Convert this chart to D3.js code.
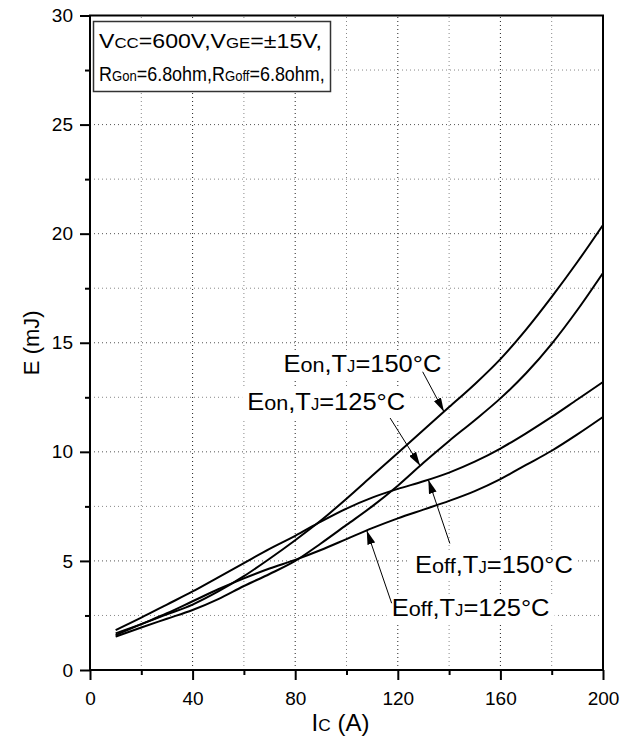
<!DOCTYPE html>
<html>
<head>
<meta charset="utf-8">
<script src="https://cdn.jsdelivr.net/npm/d3@7"></script>
<style>
  html, body { margin: 0; padding: 0; background: #fff; }
  svg { display: block; font-family: "Liberation Sans", Arial, Helvetica, sans-serif; }
</style>
</head>
<body>
<svg id="chart" width="621" height="743"></svg>
<script>
// Collector current (A)
const currentA = [10, 20, 30, 40, 50, 60, 70, 80, 90, 100, 110, 120, 130, 140, 150, 160, 170, 180, 190, 200];

// Switching energies (mJ)
const eonTj150  = [1.68, 2.10, 2.55, 3.00, 3.60, 4.30, 5.10, 5.95, 6.85, 7.85, 8.90, 9.95, 11.00, 12.05, 13.10, 14.25, 15.60, 17.10, 18.70, 20.40];
const eonTj125  = [1.53, 1.95, 2.35, 2.75, 3.25, 3.85, 4.40, 5.00, 5.80, 6.65, 7.50, 8.45, 9.50, 10.50, 11.45, 12.45, 13.60, 14.95, 16.50, 18.20];
const eoffTj150 = [1.83, 2.40, 3.00, 3.60, 4.25, 4.90, 5.55, 6.15, 6.80, 7.40, 7.90, 8.30, 8.65, 9.05, 9.55, 10.15, 10.85, 11.60, 12.40, 13.20];
const eoffTj125 = [1.60, 2.10, 2.60, 3.15, 3.70, 4.20, 4.65, 5.05, 5.50, 6.00, 6.50, 6.95, 7.35, 7.75, 8.20, 8.75, 9.40, 10.05, 10.80, 11.60];

// Axis ticks
const xMajorTicks = [0, 40, 80, 120, 160, 200];
const xMinorTicks = [20, 60, 100, 140, 180];
const yMajorTicks = [0, 5, 10, 15, 20, 25, 30];
const yMinorTicks = [2.5, 7.5, 12.5, 17.5, 22.5, 27.5];
const xGridValues = [20, 40, 60, 80, 100, 120, 140, 160, 180];
const yGridValues = [2.5, 5, 7.5, 10, 12.5, 15, 17.5, 20, 22.5, 25, 27.5];

// Text content: [string, relative size]
const conditionLines = [
  [["V", 1], ["CC", 0.73], ["=600V,", 1], ["V", 1], ["GE", 0.73], ["=\u00B115V,", 1]],
  [["R", 1], ["Gon", 0.73], ["=6.8ohm,", 1], ["R", 1], ["Goff", 0.73], ["=6.8ohm,", 1]]
];
const seriesNames = {
  eon150:  [["E", 1], ["on", 0.85], [",", 1], ["T", 1], ["J", 0.65], ["=150\u00B0C", 1]],
  eon125:  [["E", 1], ["on", 0.85], [",", 1], ["T", 1], ["J", 0.65], ["=125\u00B0C", 1]],
  eoff150: [["E", 1], ["off", 0.85], [",", 1], ["T", 1], ["J", 0.65], ["=150\u00B0C", 1]],
  eoff125: [["E", 1], ["off", 0.85], [",", 1], ["T", 1], ["J", 0.65], ["=125\u00B0C", 1]]
};
const xTitle = [["I", 1], ["C", 0.72], [" (A)", 1]];
const yTitle = "E (mJ)";

const seriesValues = { eon150: eonTj150, eon125: eonTj125, eoff150: eoffTj150, eoff125: eoffTj125 };

// Callouts: label anchor (A, mJ), arrow tail (A, mJ), arrow tip current (A) on the curve
const callouts = [
  { key: "eon150",  at: [75.4, 13.66],  tail: [129.7, 13.67], tipI: 138.0 },
  { key: "eon125",  at: [61.3, 11.90],  tail: [117.0, 11.55], tipI: 128.7 },
  { key: "eoff150", at: [126.7, 4.46],  tail: [140.3, 5.80],  tipI: 131.9 },
  { key: "eoff125", at: [117.6, 2.47],  tail: [117.6, 3.06],  tipI: 107.9 }
];

// ---------- layout ----------
const svg = d3.select("#chart");
const x = d3.scaleLinear().domain([0, 200]).range([90, 603]);
const y = d3.scaleLinear().domain([0, 30]).range([670, 15.5]);

const labelFont = 24, labelWidth = 158;
const legendFont = 21, legendWidths = [223, 226];

// rich text helper: tspans of different sizes on one baseline, optionally stretched to a width
function richText(parent, parts, size, px, py, targetW) {
  const t = parent.append("text").attr("x", 0).attr("y", 0)
    .style("font-size", size + "px").attr("fill", "#000");
  parts.forEach(p => t.append("tspan").text(p[0]).style("font-size", (size * p[1]) + "px"));
  const w = t.node().getComputedTextLength();
  const s = targetW ? targetW / w : 1;
  t.attr("transform", `translate(${px},${py}) scale(${s},1)`);
  return { node: t, width: w * s, scale: s };
}

function valueAt(arr, I) {
  return d3.scaleLinear().domain(currentA).range(arr)(I);
}

// ---------- grid ----------
const grid = svg.append("g");
grid.selectAll("line.gx").data(xGridValues).join("line")
  .attr("x1", d => x(d)).attr("x2", d => x(d))
  .attr("y1", y(0)).attr("y2", y(30))
  .attr("stroke", d => d % 40 === 0 ? "#222" : "#888")
  .attr("stroke-width", 1).attr("stroke-dasharray", "1,3");
grid.selectAll("line.gy").data(yGridValues).join("line")
  .attr("y1", d => y(d)).attr("y2", d => y(d))
  .attr("x1", x(0)).attr("x2", x(200))
  .attr("stroke", d => d % 5 === 0 ? "#555" : "#888")
  .attr("stroke-width", 1).attr("stroke-dasharray", "1,3");

const bgLayer = svg.append("g");
const curveLayer = svg.append("g");
const annoLayer = svg.append("g");

// ---------- curves ----------
const line = d3.line().x(d => x(d[0])).y(d => y(d[1])).curve(d3.curveMonotoneX);
Object.keys(seriesValues).forEach(k => {
  curveLayer.append("path")
    .datum(currentA.map((c, i) => [c, seriesValues[k][i]]))
    .attr("d", line)
    .attr("fill", "none").attr("stroke", "#000").attr("stroke-width", 2)
    .attr("stroke-linejoin", "round");
});

// arrowhead
svg.append("defs").append("marker")
  .attr("id", "arrowhead").attr("markerUnits", "userSpaceOnUse")
  .attr("markerWidth", 14).attr("markerHeight", 8)
  .attr("refX", 14).attr("refY", 4).attr("orient", "auto")
  .append("path").attr("d", "M0,0 L14,4 L0,8 Z").attr("fill", "#000");

// ---------- callouts ----------
callouts.forEach(c => {
  const r = richText(annoLayer, seriesNames[c.key], labelFont, x(c.at[0]), y(c.at[1]), labelWidth);
  const bb = { x: x(c.at[0]), y: y(c.at[1]) - labelFont * 0.78, w: r.width, h: labelFont * 1.0 };
  bgLayer.append("rect")
    .attr("x", bb.x - 5).attr("y", bb.y - 3)
    .attr("width", bb.w + 10).attr("height", bb.h + 6)
    .attr("fill", "#fff");
  const tipE = valueAt(seriesValues[c.key], c.tipI);
  annoLayer.append("line")
    .attr("x1", x(c.tail[0])).attr("y1", y(c.tail[1]))
    .attr("x2", x(c.tipI)).attr("y2", y(tipE))
    .attr("stroke", "#000").attr("stroke-width", 1)
    .attr("marker-end", "url(#arrowhead)");
});

// ---------- conditions box ----------
const legendG = svg.append("g");
const legendRect = legendG.append("rect")
  .attr("x", 93.5).attr("y", 21.5).attr("height", 70)
  .attr("fill", "#fff").attr("stroke", "#333").attr("stroke-width", 1.5);
const l1 = richText(legendG, conditionLines[0], legendFont, 99, 48, legendWidths[0]);
const l2 = richText(legendG, conditionLines[1], legendFont, 99, 81, legendWidths[1]);
legendRect.attr("width", Math.max(l1.width, l2.width) + 11);

// ---------- frame and axes ----------
svg.append("rect")
  .attr("x", x(0)).attr("y", y(30))
  .attr("width", x(200) - x(0)).attr("height", y(0) - y(30))
  .attr("fill", "none").attr("stroke", "#000").attr("stroke-width", 2);

function styleAxis(g) {
  g.select(".domain").remove();
  g.selectAll(".tick line").attr("stroke", "#000").attr("stroke-width", 2);
  g.selectAll(".tick text").attr("fill", "#000").style("font-size", "19px")
    .style("font-family", "\"Liberation Sans\", Arial, sans-serif");
}

svg.append("g").attr("transform", `translate(0,${y(0)})`)
  .call(d3.axisBottom(x).tickValues(xMajorTicks).tickSize(10).tickPadding(12).tickFormat(d3.format("d")))
  .call(styleAxis);
svg.append("g").attr("transform", `translate(0,${y(0)})`)
  .call(d3.axisBottom(x).tickValues(xMinorTicks).tickSize(5).tickFormat(""))
  .call(styleAxis);
svg.append("g").attr("transform", `translate(${x(0)},0)`)
  .call(d3.axisLeft(y).tickValues(yMajorTicks).tickSize(10).tickPadding(7).tickFormat(d3.format("d")))
  .call(styleAxis);
svg.append("g").attr("transform", `translate(${x(0)},0)`)
  .call(d3.axisLeft(y).tickValues(yMinorTicks).tickSize(5).tickFormat(""))
  .call(styleAxis);

// axis titles
const xt = svg.append("text").attr("x", 0).attr("y", 0).style("font-size", "24px").attr("fill", "#000");
xTitle.forEach(p => xt.append("tspan").text(p[0]).style("font-size", (24 * p[1]) + "px"));
const xtw = xt.node().getComputedTextLength();
xt.attr("transform", `translate(${(x(0) + x(200)) / 2 - 6 - xtw / 2},731)`);

svg.append("text")
  .attr("transform", `translate(39,${(y(0) + y(30)) / 2}) rotate(-90)`)
  .attr("text-anchor", "middle")
  .style("font-size", "22px").attr("fill", "#000")
  .text(yTitle);
</script>
</body>
</html>
